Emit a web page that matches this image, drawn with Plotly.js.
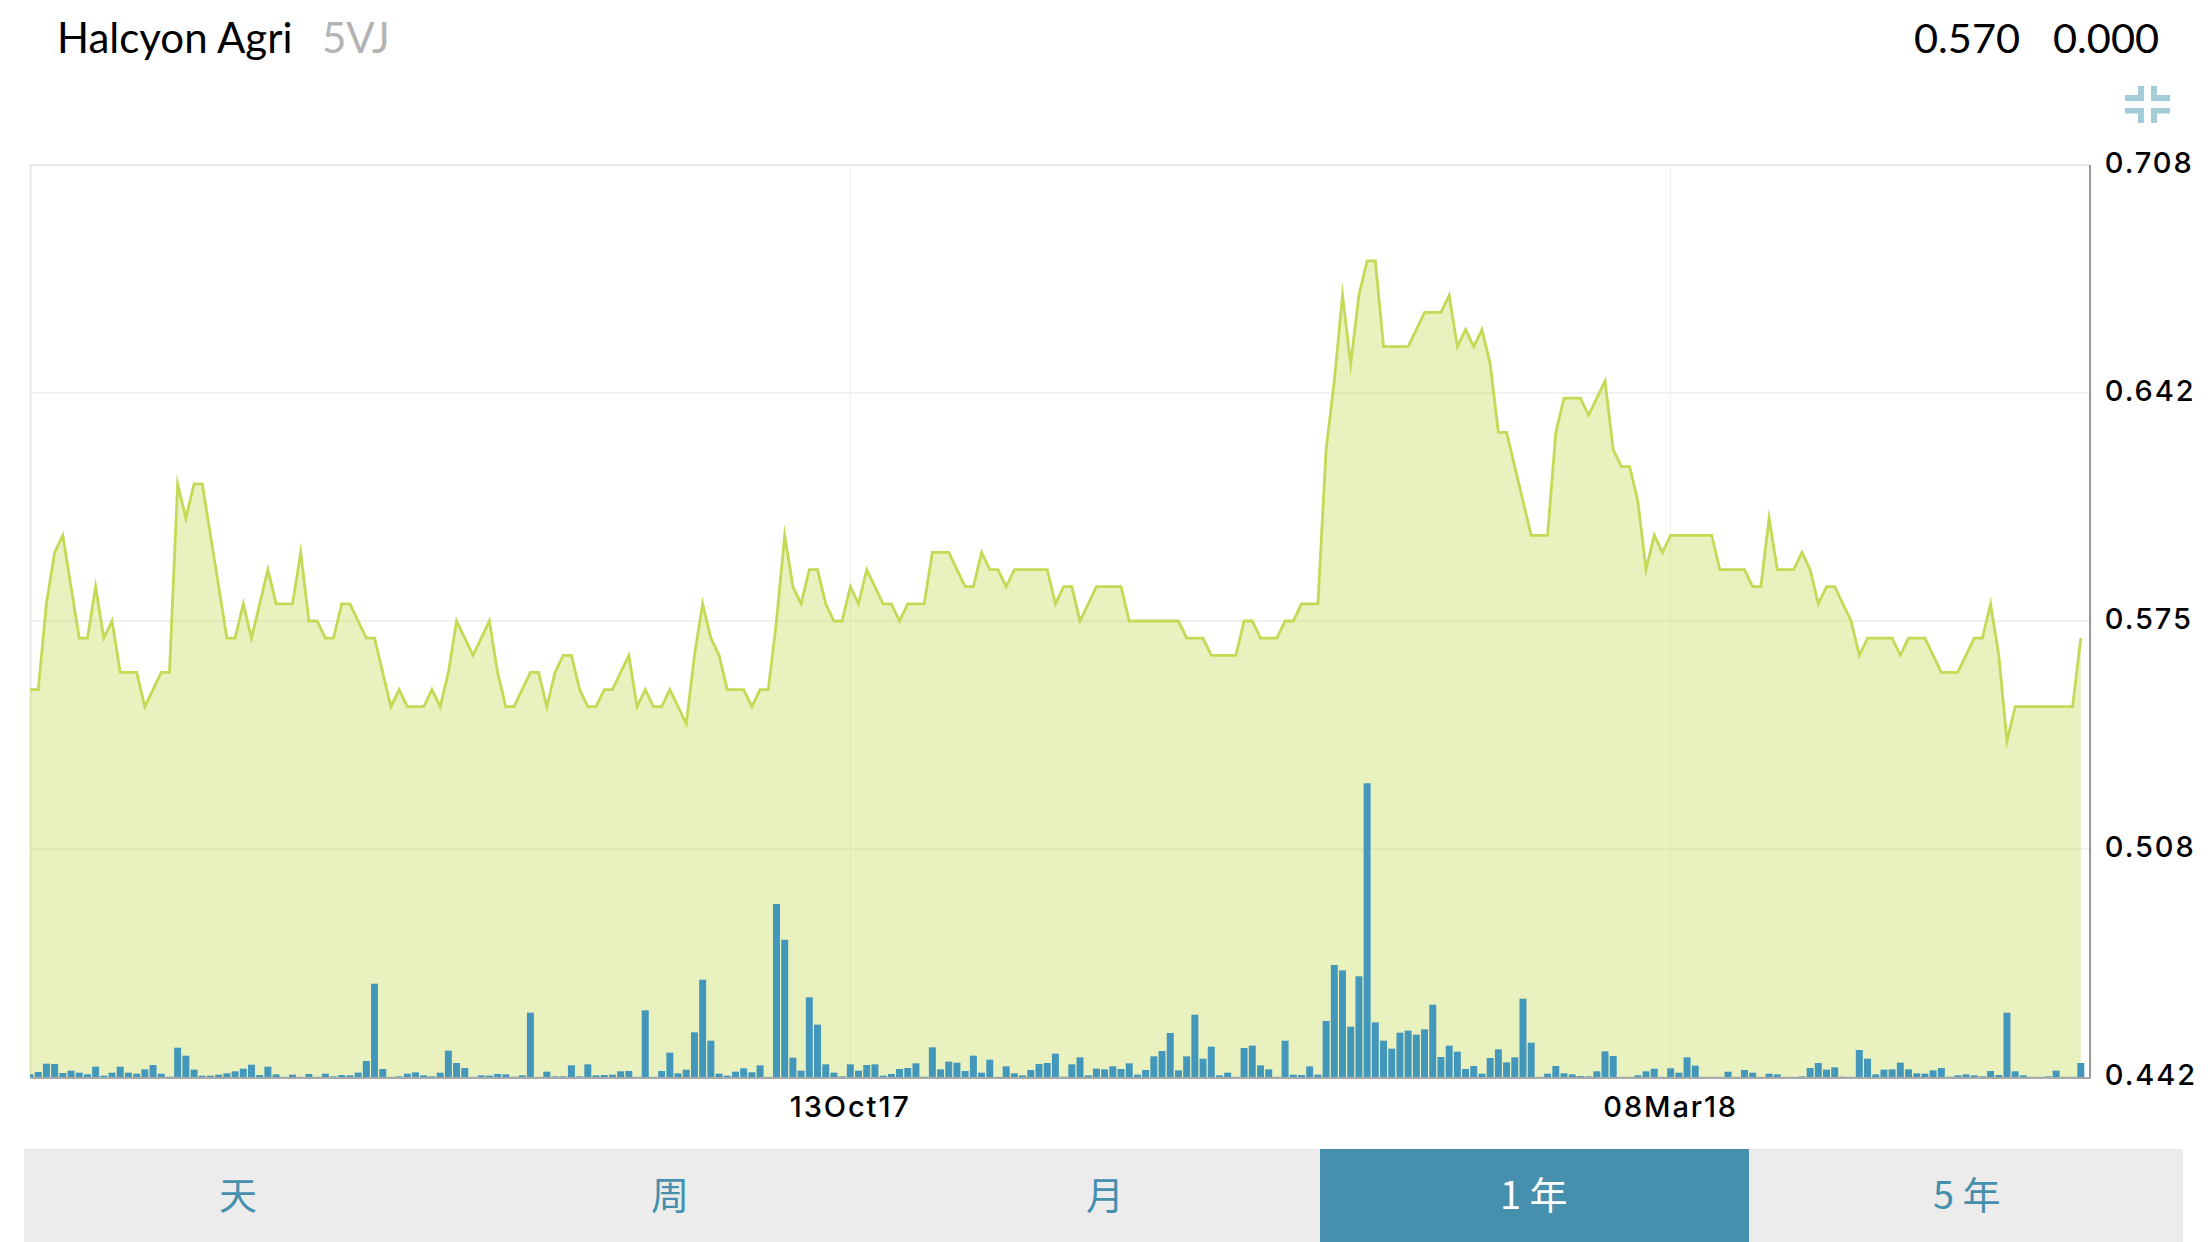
<!DOCTYPE html>
<html>
<head>
<meta charset="utf-8">
<script src="https://cdn.plot.ly/plotly-3.0.1.min.js"></script>
<style>
html,body{margin:0;padding:0;background:#fff;}
#chart{width:2208px;height:1242px;}
.scatterlayer .js-line{stroke-linejoin:miter !important;stroke-miterlimit:12 !important;}
.xtick text,.ytick text{letter-spacing:1.9px;}
</style>
</head>
<body>
<div id="chart"></div>
<script>
var companyName = "Halcyon Agri";
var tickerCode = "5VJ";
var lastPrice = "0.570";
var priceChange = "0.000";
var rangeLabels = ["天","周","月","1 年","5 年"];
var activeRange = 3;

var priceTickValues = [0.442,0.5085,0.575,0.6415,0.708];
var priceTickLabels = ["0.442","0.508","0.575","0.642","0.708"];
var dateTickIndexes = [100,200];
var dateTickLabels = ["13Oct17","08Mar18"];

var prices = [
0.555,0.555,0.58,0.595,0.60,0.585,0.57,0.57,0.585,0.57,
0.575,0.56,0.56,0.56,0.55,0.555,0.56,0.56,0.615,0.605,
0.615,0.615,0.60,0.585,0.57,0.57,0.58,0.57,0.58,0.59,
0.58,0.58,0.58,0.595,0.575,0.575,0.57,0.57,0.58,0.58,
0.575,0.57,0.57,0.56,0.55,0.555,0.55,0.55,0.55,0.555,
0.55,0.56,0.575,0.57,0.565,0.57,0.575,0.56,0.55,0.55,
0.555,0.56,0.56,0.55,0.56,0.565,0.565,0.555,0.55,0.55,
0.555,0.555,0.56,0.565,0.55,0.555,0.55,0.55,0.555,0.55,
0.545,0.565,0.58,0.57,0.565,0.555,0.555,0.555,0.55,0.555,
0.555,0.575,0.60,0.585,0.58,0.59,0.59,0.58,0.575,0.575,
0.585,0.58,0.59,0.585,0.58,0.58,0.575,0.58,0.58,0.58,
0.595,0.595,0.595,0.59,0.585,0.585,0.595,0.59,0.59,0.585,
0.59,0.59,0.59,0.59,0.59,0.58,0.585,0.585,0.575,0.58,
0.585,0.585,0.585,0.585,0.575,0.575,0.575,0.575,0.575,0.575,
0.575,0.57,0.57,0.57,0.565,0.565,0.565,0.565,0.575,0.575,
0.57,0.57,0.57,0.575,0.575,0.58,0.58,0.58,0.625,0.645,
0.67,0.65,0.67,0.68,0.68,0.655,0.655,0.655,0.655,0.66,
0.665,0.665,0.665,0.67,0.655,0.66,0.655,0.66,0.65,0.63,
0.63,0.62,0.61,0.60,0.60,0.60,0.63,0.64,0.64,0.64,
0.635,0.64,0.645,0.625,0.62,0.62,0.61,0.59,0.60,0.595,
0.60,0.60,0.60,0.60,0.60,0.60,0.59,0.59,0.59,0.59,
0.585,0.585,0.605,0.59,0.59,0.59,0.595,0.59,0.58,0.585,
0.585,0.58,0.575,0.565,0.57,0.57,0.57,0.57,0.565,0.57,
0.57,0.57,0.565,0.56,0.56,0.56,0.565,0.57,0.57,0.58,
0.565,0.54,0.55,0.55,0.55,0.55,0.55,0.55,0.55,0.55,
0.57
];

var volumes = [
8,15,40,39,12,19,13,8,31,4,
13,31,13,10,23,36,10,1,88,64,
22,4,4,7,11,17,25,37,6,31,
8,0.5,7,0.5,9,0.5,10,2,6,5,
13,48,280,24,0.5,2,10,14,5,2,
13,79,42,27,0.5,5,4,9,8,1,
5,193,0.5,16,2,2,35,2,38,5,
6,7,17,18,0.5,200,0.5,18,73,11,
22,134,292,109,10,4,16,26,14,35,
0.5,519,412,58,19,239,157,38,13,2,
38,19,36,38,4,9,24,27,41,1,
89,23,46,43,18,64,13,52,0.5,32,
11,5,21,39,42,70,1,38,59,5,
25,23,32,24,41,7,21,62,78,132,
20,62,187,55,91,5,13,0.5,87,94,
35,23,0.5,109,7,6,32,7,168,336,
320,151,302,881,164,109,85,133,139,127,
143,217,60,94,76,24,33,10,57,83,
44,59,235,103,0.5,10,33,11,8,3,
2,17,77,63,0.5,0.5,5,17,25,0.5,
26,13,59,34,0.5,0.5,0.5,16,0.5,21,
13,0.5,10,8,0.5,0.5,2,27,42,22,
29,1,0.5,81,55,8,22,23,43,23,
11,10,20,27,1,5,8,5,2,18,
6,193,17,5,0.5,0.5,2,19,0.5,0.5,
42
];

var dayIndex = prices.map(function(_, i){ return i; });

var W = 2208, H = 1242;
var M = {l:30, r:119, t:165, b:165};
var PW = W - M.l - M.r, PH = H - M.t - M.b;
function fx(px){ return (px - M.l) / PW; }
function fy(py){ return 1 - (py - M.t) / PH; }

var BLUE = "#468fad", GREY = "#ececec", ICON = "#a3ccd9";

function rect(x0,y0,x1,y1,color,layer){
  return {type:"rect",xref:"paper",yref:"paper",x0:fx(x0),x1:fx(x1),y0:fy(y0),y1:fy(y1),
          fillcolor:color,line:{width:0},layer:layer||"above"};
}
function label(text,x,y,anchor,size,color,family){
  return {text:text,xref:"paper",yref:"paper",x:fx(x),y:fy(y),xanchor:anchor,yanchor:"middle",
          showarrow:false,font:{size:size,color:color,family:family}};
}

var shapes = [
  rect(24,1149,2183,1242,GREY),
  rect(1320,1149,1749,1242,BLUE),
  // frame: top and left edges
  rect(30,164,2089,166,"#e8e8e8"),
  rect(29.5,164,31.5,1077,"#e8e8e8","below"),
  // collapse icon
  rect(2125,95,2144,101,ICON), rect(2138,86,2144,101,ICON),
  rect(2151,95,2170,101,ICON), rect(2151,86,2157,101,ICON),
  rect(2125,108,2144,113.5,ICON), rect(2138,108,2144,123,ICON),
  rect(2151,108,2170,113.5,ICON), rect(2151,108,2157,123,ICON)
];

var centers = [238,670,1105,1534,1967];
var annotations = [
  label(companyName,55,36.5,"left",42,"#000","Lato"),
  label(tickerCode,320,36.5,"left",42,"#b3b3b3","Lato"),
  label(lastPrice,2022,36.5,"right",41.5,"#000","Lato"),
  label(priceChange,2161,36.5,"right",41.5,"#000","Lato")
];
rangeLabels.forEach(function(t,i){
  annotations.push(label(t,centers[i],1192,"center",38,i===activeRange?"#fff":BLUE,"Noto Sans CJK SC"));
});

var traces = [
  {type:"scatter",mode:"lines",x:dayIndex,y:prices,yaxis:"y",
   line:{color:"#c2da55",width:2.8,shape:"linear"},
   fill:"tozeroy",fillcolor:"rgba(197,217,87,0.38)",hoverinfo:"skip"},
  {type:"bar",x:dayIndex,y:volumes,yaxis:"y2",width:0.85,
   marker:{color:"#4397ba",line:{width:0}},hoverinfo:"skip"}
];

var tickFont = {family:"Inter, 'DejaVu Sans', sans-serif",size:29,color:"#000",weight:500};

var layout = {
  width:W,height:H,
  margin:{l:M.l,r:M.r,t:M.t,b:M.b,pad:0},
  paper_bgcolor:"#fff",plot_bgcolor:"#fff",
  showlegend:false,
  bargap:0.15,
  xaxis:{range:[0,251],tickmode:"array",tickvals:dateTickIndexes,ticktext:dateTickLabels,
         showgrid:true,gridcolor:"#eeeeee",gridwidth:1.5,zeroline:false,
         showline:true,linecolor:"#aaaaaa",linewidth:2,ticks:"",
         tickfont:tickFont,ticklabelstandoff:3,fixedrange:true},
  yaxis:{range:[0.442,0.708],side:"right",tickmode:"array",tickvals:priceTickValues,ticktext:priceTickLabels,
         showgrid:true,gridcolor:"#f0f0f0",gridwidth:2,zeroline:false,
         showline:true,linecolor:"#999999",linewidth:2,ticks:"",
         tickfont:tickFont,ticklabelstandoff:8,ticklabelshift:-2,fixedrange:true},
  yaxis2:{range:[0,2736],overlaying:"y",side:"left",visible:false,fixedrange:true},
  shapes:shapes,
  annotations:annotations
};

Plotly.newPlot("chart",traces,layout,{displayModeBar:false,staticPlot:true});
</script>
</body>
</html>
